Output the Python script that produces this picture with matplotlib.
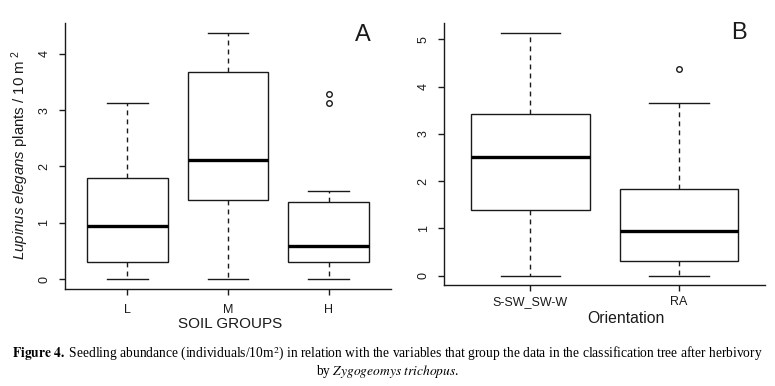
import matplotlib
matplotlib.use("Agg")
import matplotlib.pyplot as plt

# panel A: seedlings per soil group
soil_groups = ["L", "M", "H"]
soil_low = [0.0, 0.0, 0.0]
soil_q1 = [0.31, 1.40, 0.30]
soil_med = [0.935, 2.11, 0.58]
soil_q3 = [1.79, 3.67, 1.37]
soil_high = [3.12, 4.37, 1.56]
soil_out = [[], [], [3.12, 3.28]]

# panel B: seedlings per orientation
orient_groups = ["S-SW_SW-W", "RA"]
orient_low = [0.0, 0.0]
orient_q1 = [1.39, 0.31]
orient_med = [2.50, 0.95]
orient_q3 = [3.42, 1.83]
orient_high = [5.14, 3.66]
orient_out = [[], [4.37]]

plt.rcParams["font.family"] = ["Liberation Sans", "DejaVu Sans"]
plt.rcParams["mathtext.fontset"] = "custom"
plt.rcParams["mathtext.rm"] = "Liberation Sans"
plt.rcParams["mathtext.it"] = "Liberation Sans:italic"
plt.rcParams["mathtext.bf"] = "Liberation Sans:bold"

ink = "#1a1a1a"


def make_stats(low, q1, med, q3, high, out):
    return [dict(whislo=a, q1=b, med=c, q3=d, whishi=e, fliers=f)
            for a, b, c, d, e, f in zip(low, q1, med, q3, high, out)]


def draw_box(ax, stats, labels, ymax_tick, xpad):
    n = len(stats)
    ax.bxp(stats, positions=range(1, n + 1), widths=0.8, patch_artist=True,
           boxprops=dict(facecolor="white", edgecolor=ink, linewidth=1.0),
           medianprops=dict(color="black", linewidth=2.4),
           whiskerprops=dict(color=ink, linewidth=1.0, linestyle=(0, (3.5, 3))),
           capprops=dict(color=ink, linewidth=1.0),
           flierprops=dict(marker="o", markersize=4, markerfacecolor="none",
                           markeredgecolor=ink, markeredgewidth=1),
           capwidths=0.4)
    ax.set_xlim(0.5 - 0.04 * n, n + 0.5 + 0.04 * n)
    ax.set_xticks(range(1, n + 1))
    ax.set_xticklabels(labels)
    ax.set_yticks(range(0, ymax_tick + 1))
    ax.set_yticklabels([str(v) for v in range(0, ymax_tick + 1)],
                       rotation=90, va="center")
    for s in ["top", "right"]:
        ax.spines[s].set_visible(False)
    for s in ["left", "bottom"]:
        ax.spines[s].set_color(ink)
        ax.spines[s].set_linewidth(1.0)
    ax.tick_params(axis="both", length=4.5, width=1.0, color=ink,
                   labelsize=9, labelcolor=ink)
    ax.tick_params(axis="y", pad=6)
    ax.tick_params(axis="x", pad=xpad)


fig = plt.figure(figsize=(7.75, 3.86), dpi=100)

axA = fig.add_axes([0.0839, 0.2513, 0.4206, 0.6891])
draw_box(axA, make_stats(soil_low, soil_q1, soil_med, soil_q3, soil_high, soil_out),
         soil_groups, 4, 6)
rngA = max(soil_high + [v for o in soil_out for v in o])
axA.set_ylim(-0.04 * rngA, rngA * 1.04)
axA.text(0.915, 0.955, "A", transform=axA.transAxes, fontsize=17,
         ha="center", va="center", color=ink)
axA.text(0.506, -0.133, "SOIL GROUPS", transform=axA.transAxes, fontsize=11,
         ha="center", va="center", color=ink)
axA.text(-0.138, 0.504, r"$\it{Lupinus\ elegans}$ plants / 10 m$^{\ 2}$",
         transform=axA.transAxes, rotation=90, fontsize=10.8,
         ha="center", va="center", color=ink)

axB = fig.add_axes([0.5733, 0.2609, 0.4138, 0.6795])
draw_box(axB, make_stats(orient_low, orient_q1, orient_med, orient_q3, orient_high,
                         orient_out), orient_groups, 5, 3)
rngB = max(orient_high + [v for o in orient_out for v in o])
axB.set_ylim(-0.04 * rngB, rngB * 1.04)
axB.text(0.92, 0.96, "B", transform=axB.transAxes, fontsize=17,
         ha="center", va="center", color=ink)
axB.text(0.565, -0.125, "Orientation", transform=axB.transAxes, fontsize=11.3,
         ha="center", va="center", color=ink)

# caption
cap_kw = dict(ha="center", va="center", fontsize=9.75, color="black",
              family="Liberation Serif", math_fontfamily="stix")
fig.text(0.5, 1 - 354 / 386,
         r"$\mathbf{Figure\ 4.}$ Seedling abundance (individuals/10m$^{2}$) in relation "
         "with the variables that group the data in the classification tree after herbivory",
         **cap_kw)
fig.text(0.5, 1 - 372 / 386, r"by $\mathit{Zygogeomys\ trichopus}$.", **cap_kw)

fig.savefig("out.png", dpi=100)
